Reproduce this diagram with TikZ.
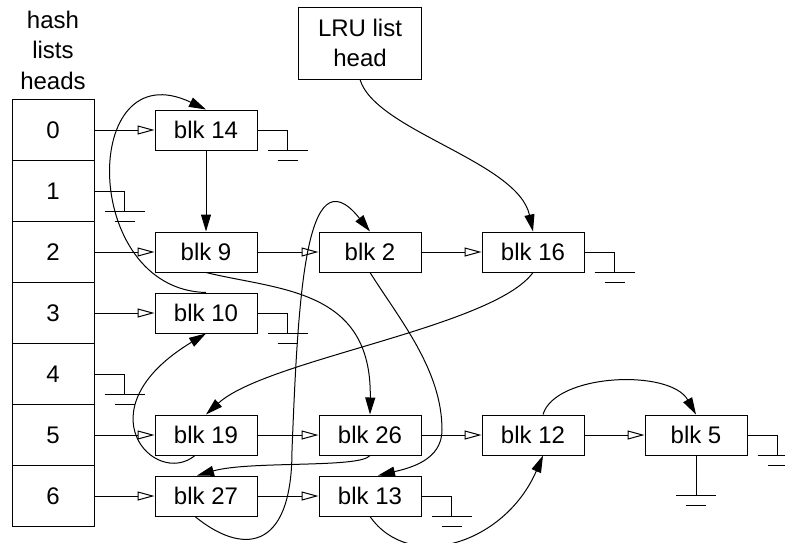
\documentclass[tikz,border=0pt]{standalone}
\usepackage{fontspec}
\setmainfont{Liberation Sans}
\usetikzlibrary{arrows.meta}
\tikzset{
  slot/.style={draw, minimum width=41pt, minimum height=30.5pt},
  blk/.style={draw, minimum width=51pt, minimum height=20pt},
  nxt/.style={-{Triangle[open, length=8.5pt, width=4.5pt]}},
  lru/.style={-{Triangle[length=8.5pt, width=5pt]}},
  gnd/.pic={\draw (-20,0) -- (20,0); \draw (-10,10) -- (10,10);}
}
\begin{document}
\begin{tikzpicture}[x=0.5pt, y=-0.5pt, line width=0.5pt, font=\fontsize{12}{15.25}\selectfont]
\clip (0,0) rectangle (785,542);

% hash table
\node[align=center] (title) at (53,50) {hash\\lists\\heads};
\foreach \i in {0,...,6}
  \node[slot] (h\i) at (53,130+61*\i) {\i};

% blocks
\node[blk] (b14) at (206,130) {blk 14};
\node[blk] (b9)  at (206,252) {blk 9};
\node[blk] (b10) at (206,313) {blk 10};
\node[blk] (b19) at (206,435) {blk 19};
\node[blk] (b27) at (206,496) {blk 27};
\node[blk] (b2)  at (370,252) {blk 2};
\node[blk] (b26) at (370,435) {blk 26};
\node[blk] (b13) at (370,496) {blk 13};
\node[blk] (b16) at (533,252) {blk 16};
\node[blk] (b12) at (533,435) {blk 12};
\node[blk] (b5)  at (696,435) {blk 5};
\node[draw, minimum width=61.5pt, minimum height=36pt, align=center] (head) at (360,43) {LRU list\\head};

% hash chains
\draw[nxt] (h0) -- (b14);
\draw[nxt] (h2) -- (b9);
\draw[nxt] (b9) -- (b2);
\draw[nxt] (b2) -- (b16);
\draw[nxt] (h3) -- (b10);
\draw[nxt] (h5) -- (b19);
\draw[nxt] (b19) -- (b26);
\draw[nxt] (b26) -- (b12);
\draw[nxt] (b12) -- (b5);
\draw[nxt] (h6) -- (b27);
\draw[nxt] (b27) -- (b13);

% null ends
\foreach \n in {h1,h4,b14,b10,b16,b13,b5} {
  \coordinate (g\n) at ([shift={(30,20)}]\n.east);
  \draw (\n.east) -| (g\n) pic{gnd};
}
\coordinate (gb5d) at ([yshift=-20pt]b5.south);
\draw (b5.south) -- (gb5d) pic{gnd};

% LRU list
\draw[lru] (head.south) .. controls +(15,51) and +(-15,-70) .. (b16.north);
\draw[lru] (b16.south) .. controls +(-40,55) and +(60,-55) .. (b19.north);
\draw[lru] ([xshift=-5.5pt]b19.south) .. controls +(-40,33) and +(-126,76) .. (b10.south);
\draw[lru] (b10.north) .. controls +(-126,-3) and +(-126,-60) .. (b14.north);
\draw[lru] (b14) -- (b9);
\draw[lru] (b9.south) .. controls +(74,18) and +(2,-126) .. (b26.north);
\draw[lru] (b26.south) .. controls +(-10,13) and +(53,-15) .. ([xshift=-4.5pt]b27.north);
\draw[lru] ([xshift=-5.5pt]b27.south) .. controls +(45,37) and (292,555) .. (292,450)
  .. controls (298,300) and (305,150) .. (b2.north);
\draw[lru] (b2.south) .. controls (400,320) and (442,370) .. (442,430)
  .. controls (442,460) and (410,468) .. ([xshift=4pt]b13.north);
\draw[lru] (b13.south) .. controls +(40,57) and +(-38,88) .. ([xshift=5pt]b12.south);
\draw[lru] ([xshift=5pt]b12.north) .. controls +(12,-41) and +(-26,-46) .. (b5.north);
\end{tikzpicture}
\end{document}
